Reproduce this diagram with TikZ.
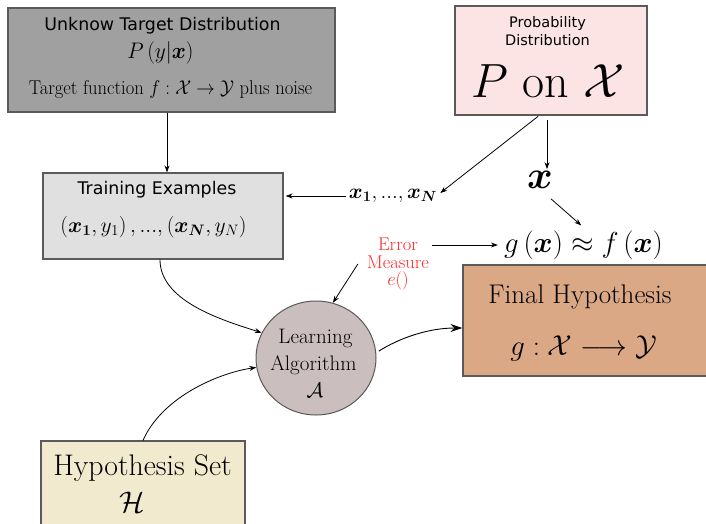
\RequirePackage{fix-cm}
\documentclass[tikz,border=0pt]{standalone}
\usepackage{fontspec}
\usepackage{amsmath}
\usetikzlibrary{arrows.meta,shapes.geometric}
\newfontfamily\dv{DejaVu Sans}
\newcommand\myfs[1]{\fontsize{#1}{#1}\selectfont}
\definecolor{cTarget}{RGB}{160,160,160}
\definecolor{cProb}{RGB}{253,228,228}
\definecolor{cTrain}{RGB}{224,224,224}
\definecolor{cLearn}{RGB}{203,190,190}
\definecolor{cFinal}{RGB}{219,168,134}
\definecolor{cHyp}{RGB}{242,234,207}
\definecolor{cBorder}{RGB}{90,90,90}
\definecolor{cErr}{RGB}{255,40,40}
\begin{document}
\begin{tikzpicture}[x=1pt,y=-1pt,
  boxnode/.style={draw=cBorder, line width=1.2pt, rectangle, inner sep=0pt},
  txt/.style={anchor=base, inner sep=0pt},
  arr/.style={line width=0.8pt, -{Stealth[length=7pt,width=5pt]}},
  bigarr/.style={line width=0.9pt, -{Stealth[length=12pt,width=8pt]}}]
\useasboundingbox (0,0) rectangle (706,523);

% boxes
\node[boxnode, fill=cTarget, minimum width=327pt, minimum height=104pt] (target) at (171.5,60) {};
\node[boxnode, fill=cProb, minimum width=192pt, minimum height=109pt] (prob) at (551,60.5) {};
\node[boxnode, fill=cTrain, minimum width=240pt, minimum height=86pt] (train) at (163,216) {};
\node[boxnode, fill=cFinal, minimum width=247pt, minimum height=111pt] (final) at (586.5,320.5) {};
\node[boxnode, fill=cHyp, minimum width=204pt, minimum height=87pt] (hyp) at (143,484.5) {};
\node[draw=cBorder, line width=1pt, fill=cLearn, ellipse, minimum width=120pt, minimum height=114pt, inner sep=0pt] (learn) at (316,358) {};

% texts
\node[txt] (t1) at (162.5,30) {\dv\myfs{17.4}Unknow Target Distribution};
\node[txt] (t2) at (160.5,58) {\myfs{22.5}\scalebox{0.95}[1]{$P\left(y|\boldsymbol{x}\right)$}};
\node[txt] (t3) at (170.5,94) {\myfs{20}\scalebox{0.927}[1]{Target function $f:\mathcal{X}\rightarrow\mathcal{Y}$ plus noise}};
\node[txt] (p1) at (547.5,27) {\dv\myfs{14.5}Probability};
\node[txt] (p2) at (547.5,45) {\dv\myfs{14.5}Distribution};
\node[txt] (p3) at (548,97) {\myfs{48}$P$ on $\mathcal{X}$};
\node[txt] (r1) at (157,194) {\dv\myfs{17.4}Training Examples};
\node[txt] (r2) at (153.5,232) {\myfs{21.6}$\left(\boldsymbol{x_1},y_1\right),...,\left(\boldsymbol{x_N},y_N\right)$};
\node[inner sep=3pt] (xs) at (393,196) {\myfs{21}$\boldsymbol{x_1},...,\boldsymbol{x_N}$};
\node[inner sep=2pt] (xbig) at (540,180) {\myfs{39}$\boldsymbol{x}$};
\node[inner sep=3pt] (gf) at (583.5,245) {\myfs{28.9}$g\left(\boldsymbol{x}\right)\approx f\left(\boldsymbol{x}\right)$};
\node[inner sep=0pt, align=center, text=cErr, font=\myfs{18.5}] (err) at (398,264) {Error\\[-1pt]Measure\\[-1pt]$e()$};
\node[txt] (f1) at (580,303) {\myfs{27}Final Hypothesis};
\node[txt] (f2) at (583.5,355) {\myfs{28.8}$g:\mathcal{X}\longrightarrow\mathcal{Y}$};
\node[txt] (l1) at (315.5,343) {\myfs{21}Learning};
\node[txt] (l2) at (313.5,370) {\myfs{21}Algorithm};
\node[txt] (l3) at (315,397) {\myfs{21}$\mathcal{A}$};
\node[txt] (h1) at (142.5,475) {\myfs{29.8}Hypothesis Set};
\node[txt] (h2) at (132,512) {\myfs{29.8}$\mathcal{H}$};

% connectors
\draw[arr] ([xshift=-4.5pt]target.south) -- ([xshift=-4.5pt]target.south |- train.north);
\draw[arr, shorten >=2pt] (xs.west) -- (xs.west -| train.east);
\draw[arr, shorten <=1pt] ([xshift=-12pt]prob.south) -- ([yshift=3pt]xs.east);
\draw[arr, shorten <=4pt] ([xshift=-4pt]prob.south) -- ([xshift=-4pt]prob.south |- xbig.north);
\draw[arr, shorten >=3pt] ([xshift=11pt,yshift=-8pt]xbig.south) -- (gf.north);
\draw[arr, shorten >=3pt] ([xshift=3pt]err.east |- gf.west) -- (gf.west);
\draw[arr] ([xshift=-9pt]err.west) -- (learn.73);
\draw[arr] ([xshift=-3pt]train.south) .. controls +(0,40) and +(-45,-14) .. (learn.155);
\draw[arr] (hyp.north) .. controls +(20,-45) and +(-35,5) .. (learn.189);
\draw[bigarr, shorten <=3pt] (learn.5) .. controls +(22,-14) and +(-35,0) .. ([yshift=-7.5pt]final.west);
\end{tikzpicture}
\end{document}
